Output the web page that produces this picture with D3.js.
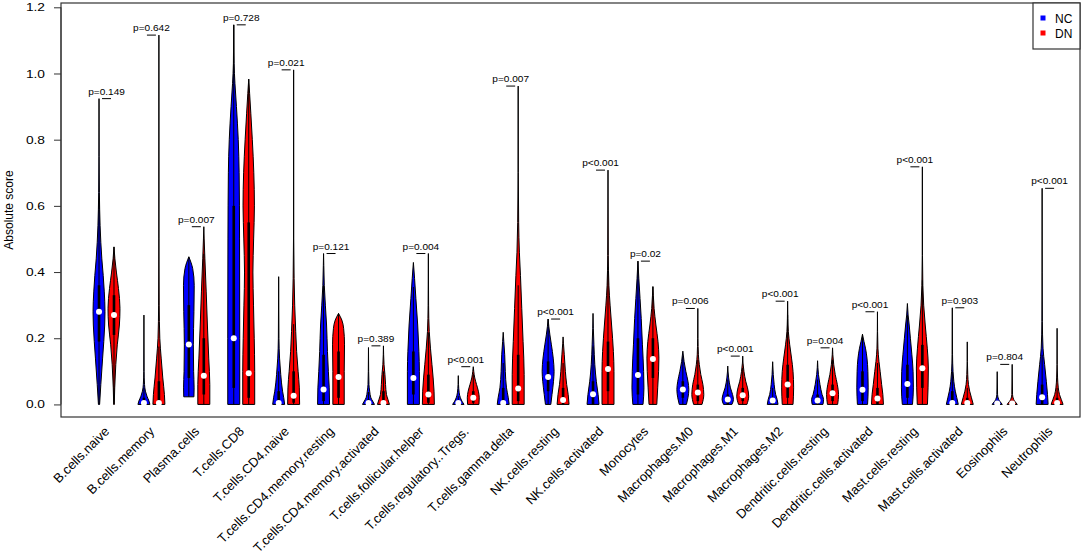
<!DOCTYPE html>
<html>
<head>
<meta charset="utf-8">
<script src="https://cdn.jsdelivr.net/npm/d3@7"></script>
<style>
  body { margin: 0; background: #fff; }
  text { font-family: "Liberation Sans", Arial, sans-serif; fill: #000; }
</style>
</head>
<body>
<div id="chart"></div>
<script>
const categories = ["B.cells.naive", "B.cells.memory", "Plasma.cells", "T.cells.CD8", "T.cells.CD4.naive",
  "T.cells.CD4.memory.resting", "T.cells.CD4.memory.activated", "T.cells.follicular.helper",
  "T.cells.regulatory..Tregs.", "T.cells.gamma.delta", "NK.cells.resting", "NK.cells.activated",
  "Monocytes", "Macrophages.M0", "Macrophages.M1", "Macrophages.M2", "Dendritic.cells.resting",
  "Dendritic.cells.activated", "Mast.cells.resting", "Mast.cells.activated", "Eosinophils", "Neutrophils"];

const pLabels = ["p=0.149", "p=0.642", "p=0.007", "p=0.728", "p=0.021", "p=0.121", "p=0.389", "p=0.004",
  "p<0.001", "p=0.007", "p<0.001", "p<0.001", "p=0.02", "p=0.006", "p<0.001", "p<0.001", "p=0.004",
  "p<0.001", "p<0.001", "p=0.903", "p=0.804", "p<0.001"];

// density outline of each violin: [score, relative half width]
const ncProfiles = [
  [[0,0.1],[0.06,0.3],[0.14,0.6],[0.24,0.95],[0.28,1],[0.34,0.88],[0.39,0.7],[0.44,0.47],[0.54,0.18],[0.64,0.06],[0.75,0.02],[0.924,0]],
  [[0,1],[0.01,0.85],[0.025,0.5],[0.04,0.25],[0.06,0.1],[0.1,0.03],[0.27,0]],
  [[0.023,0.85],[0.05,0.88],[0.1,0.8],[0.18,0.75],[0.28,0.85],[0.36,0.9],[0.41,0.65],[0.446,0]],
  [[0,1],[0.2,1],[0.5,0.97],[0.7,0.9],[0.8,0.75],[0.9,0.45],[0.97,0.2],[1.03,0.06],[1.147,0]],
  [[0,1],[0.02,0.85],[0.04,0.65],[0.09,0.35],[0.14,0.15],[0.2,0.05],[0.386,0]],
  [[0,1],[0.05,0.95],[0.1,0.8],[0.16,0.65],[0.24,0.5],[0.3,0.3],[0.36,0.12],[0.42,0.04],[0.456,0]],
  [[0,1],[0.01,0.7],[0.02,0.4],[0.04,0.2],[0.06,0.08],[0.1,0.03],[0.172,0]],
  [[0,1],[0.1,1],[0.16,0.92],[0.24,0.72],[0.32,0.42],[0.38,0.2],[0.429,0]],
  [[0,0.95],[0.01,0.6],[0.02,0.35],[0.035,0.15],[0.06,0.04],[0.087,0]],
  [[0,1],[0.02,0.85],[0.05,0.55],[0.1,0.35],[0.15,0.25],[0.19,0.1],[0.218,0]],
  [[0,0.45],[0.03,0.65],[0.07,0.9],[0.1,1],[0.14,0.85],[0.18,0.55],[0.21,0.3],[0.235,0.12],[0.258,0]],
  [[0,1],[0.03,0.85],[0.07,0.55],[0.12,0.3],[0.18,0.15],[0.23,0.05],[0.275,0]],
  [[0,0.85],[0.05,1],[0.1,0.95],[0.18,0.75],[0.26,0.55],[0.32,0.35],[0.38,0.15],[0.433,0]],
  [[0,0.6],[0.02,0.85],[0.045,1],[0.07,0.85],[0.1,0.5],[0.13,0.2],[0.161,0]],
  [[0,0.7],[0.015,0.95],[0.03,0.8],[0.05,0.45],[0.08,0.15],[0.116,0]],
  [[0,0.9],[0.015,0.75],[0.03,0.5],[0.06,0.25],[0.09,0.1],[0.129,0]],
  [[0,0.9],[0.015,1],[0.03,0.75],[0.06,0.4],[0.09,0.15],[0.132,0]],
  [[0,0.85],[0.05,0.95],[0.1,0.9],[0.14,0.75],[0.17,0.5],[0.19,0.25],[0.212,0]],
  [[0,0.85],[0.05,1],[0.1,0.95],[0.15,0.75],[0.2,0.5],[0.24,0.3],[0.27,0.12],[0.305,0]],
  [[0,1],[0.02,0.75],[0.04,0.5],[0.07,0.25],[0.1,0.12],[0.15,0.04],[0.292,0]],
  [[0,0.85],[0.008,0.5],[0.015,0.25],[0.03,0.06],[0.099,0]],
  [[0,1],[0.03,0.9],[0.07,0.7],[0.12,0.42],[0.17,0.15],[0.25,0.04],[0.4,0.01],[0.653,0]]
];

const dnProfiles = [
  [[0,0.05],[0.05,0.12],[0.12,0.3],[0.18,0.55],[0.24,0.9],[0.29,1],[0.35,0.75],[0.4,0.4],[0.44,0.15],[0.476,0]],
  [[0,1],[0.03,0.92],[0.08,0.65],[0.14,0.38],[0.2,0.15],[0.3,0.05],[0.5,0.01],[1.116,0]],
  [[0,1],[0.06,1],[0.14,0.82],[0.24,0.6],[0.34,0.4],[0.44,0.18],[0.5,0.06],[0.537,0]],
  [[0,1],[0.1,1],[0.2,0.92],[0.3,0.8],[0.4,0.7],[0.5,0.82],[0.6,0.95],[0.7,0.85],[0.8,0.6],[0.88,0.35],[0.94,0.15],[0.983,0]],
  [[0,1],[0.05,0.95],[0.1,0.75],[0.16,0.5],[0.22,0.35],[0.3,0.18],[0.38,0.08],[0.5,0.02],[1.011,0]],
  [[0,0.95],[0.1,0.95],[0.18,1],[0.23,0.85],[0.255,0.55],[0.275,0]],
  [[0,1],[0.015,0.75],[0.03,0.5],[0.06,0.35],[0.09,0.25],[0.12,0.1],[0.15,0.03],[0.177,0]],
  [[0,1],[0.04,0.95],[0.08,0.8],[0.12,0.6],[0.17,0.35],[0.22,0.15],[0.3,0.04],[0.456,0]],
  [[0,0.95],[0.02,1],[0.04,0.85],[0.06,0.55],[0.08,0.25],[0.1,0.08],[0.114,0]],
  [[0,1],[0.09,1],[0.19,0.82],[0.29,0.6],[0.39,0.38],[0.46,0.2],[0.55,0.08],[0.7,0.02],[0.962,0]],
  [[0,1],[0.03,0.85],[0.06,0.6],[0.1,0.38],[0.15,0.2],[0.185,0.06],[0.204,0]],
  [[0,1],[0.1,1],[0.16,0.9],[0.24,0.6],[0.3,0.35],[0.36,0.15],[0.45,0.05],[0.708,0]],
  [[0,0.65],[0.05,0.8],[0.1,0.95],[0.14,1],[0.19,0.85],[0.24,0.5],[0.29,0.2],[0.33,0.07],[0.356,0]],
  [[0,0.7],[0.03,1],[0.06,0.85],[0.09,0.5],[0.12,0.25],[0.15,0.1],[0.2,0.03],[0.29,0]],
  [[0,0.7],[0.025,1],[0.05,0.8],[0.07,0.5],[0.1,0.2],[0.125,0.05],[0.146,0]],
  [[0,0.9],[0.05,1],[0.1,0.9],[0.14,0.65],[0.18,0.35],[0.22,0.12],[0.26,0.04],[0.312,0]],
  [[0,0.85],[0.03,1],[0.06,0.8],[0.09,0.45],[0.12,0.2],[0.15,0.05],[0.171,0]],
  [[0,1],[0.03,0.9],[0.06,0.7],[0.1,0.45],[0.13,0.25],[0.17,0.08],[0.22,0.02],[0.28,0]],
  [[0,0.85],[0.05,0.95],[0.11,1],[0.17,0.82],[0.24,0.48],[0.3,0.22],[0.36,0.08],[0.45,0.02],[0.718,0]],
  [[0,1],[0.02,0.7],[0.04,0.4],[0.06,0.2],[0.09,0.08],[0.13,0.02],[0.189,0]],
  [[0,0.85],[0.008,0.5],[0.015,0.25],[0.03,0.06],[0.121,0]],
  [[0,1],[0.015,0.7],[0.03,0.4],[0.05,0.2],[0.08,0.08],[0.12,0.02],[0.23,0]]
];

const ncMedian = [0.28, 0.004, 0.181, 0.2, 0.004, 0.045, 0.004, 0.08, 0.004, 0.004, 0.083, 0.031,
  0.089, 0.045, 0.015, 0.012, 0.012, 0.044, 0.062, 0.004, 0.003, 0.022];
const dnMedian = [0.27, 0.004, 0.087, 0.094, 0.026, 0.083, 0.004, 0.03, 0.02, 0.048, 0.013, 0.107,
  0.137, 0.036, 0.028, 0.06, 0.034, 0.018, 0.109, 0.004, 0.003, 0.004];
const ncQ1 = [0.19, 0, 0.08, 0.05, 0, 0.01, 0, 0.03, 0, 0, 0.04, 0, 0.03, 0.02, 0, 0, 0, 0.01, 0.02, 0, 0, 0];
const ncQ3 = [0.36, 0.02, 0.3, 0.6, 0.04, 0.15, 0.015, 0.16, 0.01, 0.05, 0.13, 0.07, 0.2, 0.07, 0.03, 0.02,
  0.03, 0.1, 0.12, 0.04, 0.005, 0.06];
const dnQ1 = [0.21, 0, 0.03, 0.02, 0.005, 0.02, 0, 0.005, 0.005, 0.01, 0, 0.04, 0.08, 0.01, 0.01, 0.02, 0.01,
  0, 0.05, 0, 0, 0];
const dnQ3 = [0.33, 0.07, 0.2, 0.55, 0.1, 0.16, 0.04, 0.09, 0.04, 0.15, 0.05, 0.19, 0.2, 0.06, 0.05, 0.12,
  0.06, 0.05, 0.18, 0.02, 0.005, 0.02];

const yTicks = [0, 0.2, 0.4, 0.6, 0.8, 1.0, 1.2];
const groups = ["NC", "DN"];
const groupColors = ["#0000ff", "#ff0000"];

const width = 1084, height = 555;
const plot = { left: 61, right: 1080, top: 3, bottom: 417 };

const svg = d3.select('#chart').append('svg')
  .attr('width', width)
  .attr('height', height);

// positions: NC at 3k+1, DN at 3k+2
const x = d3.scaleLinear().domain([-1.54, 66.53]).range([plot.left, plot.right]);
const y = d3.scaleLinear().domain([-0.038, 1.213]).range([plot.bottom, plot.top]);
const wex = 0.4;

const violins = [];
categories.forEach((c, i) => {
  violins.push({ pos: 3 * i + 1, color: groupColors[0], prof: ncProfiles[i], med: ncMedian[i], q1: ncQ1[i], q3: ncQ3[i] });
  violins.push({ pos: 3 * i + 2, color: groupColors[1], prof: dnProfiles[i], med: dnMedian[i], q1: dnQ1[i], q3: dnQ3[i] });
});

const area = d3.area()
  .curve(d3.curveMonotoneY)
  .y(d => y(d[0]));

const vg = svg.append('g');
violins.forEach(v => {
  const g = vg.append('g');
  g.append('path')
    .datum(v.prof)
    .attr('d', area.x0(d => x(v.pos - d[1] * wex)).x1(d => x(v.pos + d[1] * wex)))
    .attr('fill', v.color)
    .attr('stroke', '#000')
    .attr('stroke-width', 1)
    .attr('stroke-linejoin', 'round');
  const lo = v.prof[0][0], hi = v.prof[v.prof.length - 1][0];
  const upper = Math.min(hi, v.q3 + 1.5 * (v.q3 - v.q1));
  g.append('line')
    .attr('x1', x(v.pos)).attr('x2', x(v.pos))
    .attr('y1', y(lo)).attr('y2', y(upper))
    .attr('stroke', '#000').attr('stroke-width', 1);
  g.append('rect')
    .attr('x', x(v.pos) - 1.3).attr('width', 2.6)
    .attr('y', y(v.q3)).attr('height', Math.max(0.5, y(v.q1) - y(v.q3)))
    .attr('fill', '#000');
  g.append('circle')
    .attr('cx', x(v.pos)).attr('cy', y(v.med))
    .attr('r', 3)
    .attr('fill', '#fff');
});

// p-value brackets
const pg = svg.append('g');
categories.forEach((c, i) => {
  const p = 3 * i + 1;
  const top = Math.max(ncProfiles[i][ncProfiles[i].length - 1][0], dnProfiles[i][dnProfiles[i].length - 1][0]);
  pg.append('line')
    .attr('x1', x(p + 0.2)).attr('x2', x(p + 0.8))
    .attr('y1', y(top)).attr('y2', y(top))
    .attr('stroke', '#000').attr('stroke-width', 1);
  pg.append('text')
    .attr('transform', `translate(${x(p + 0.5)},${y(top) - 4}) scale(1.12,1)`)
    .attr('text-anchor', 'middle')
    .style('font-size', '9px')
    .text(pLabels[i]);
});

// frame
svg.append('rect')
  .attr('x', plot.left).attr('y', plot.top)
  .attr('width', plot.right - plot.left).attr('height', plot.bottom - plot.top)
  .attr('fill', 'none').attr('stroke', '#333').attr('stroke-width', 1.2);

// y axis
const yAxis = svg.append('g')
  .attr('transform', `translate(${plot.left},0)`)
  .call(d3.axisLeft(y).tickValues(yTicks).tickFormat(d3.format('.1f')).tickSize(7));
yAxis.select('.domain').remove();
yAxis.selectAll('text')
  .attr('x', 0)
  .attr('transform', 'translate(-16,0) scale(1.25,1)')
  .style('font-size', '11px')
  .style('font-family', '"Liberation Sans", Arial, sans-serif');
yAxis.selectAll('line').attr('stroke', '#333');
yAxis.append('line')
  .attr('y1', y(0)).attr('y2', y(1.2))
  .attr('stroke', '#333');

svg.append('text')
  .attr('transform', `translate(13,210) rotate(-90)`)
  .attr('text-anchor', 'middle')
  .style('font-size', '12px')
  .text('Absolute score');

// category labels
svg.append('g').selectAll('text')
  .data(categories)
  .enter().append('text')
  .attr('transform', (d, i) => `translate(${x(3 * i + 1.5) + 0.5},429) rotate(-45)`)
  .attr('text-anchor', 'end')
  .attr('dy', '0.35em')
  .style('font-size', '13px')
  .text(d => d);

// legend
const lg = svg.append('g');
lg.append('rect')
  .attr('x', 1033).attr('y', plot.top)
  .attr('width', plot.right - 1033).attr('height', 46)
  .attr('fill', '#fff').attr('stroke', '#333').attr('stroke-width', 1.2);
groups.forEach((gname, i) => {
  lg.append('rect')
    .attr('x', 1040.5).attr('y', 15.5 + i * 15)
    .attr('width', 5).attr('height', 5)
    .attr('fill', groupColors[i]);
  lg.append('text')
    .attr('x', 1055).attr('y', 22.5 + i * 15)
    .style('font-size', '12px')
    .text(gname);
});
</script>
</body>
</html>
